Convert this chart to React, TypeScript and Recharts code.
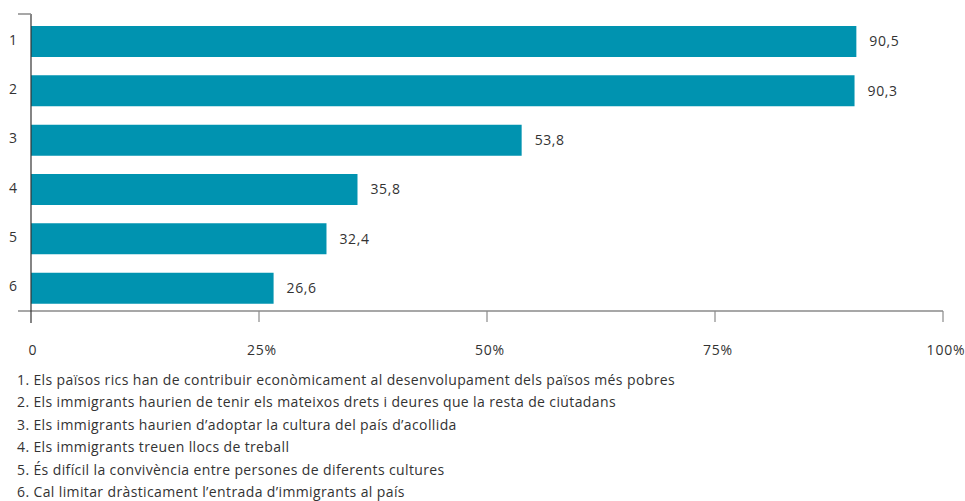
import React from "react";
import { BarChart, Bar, XAxis, YAxis, LabelList } from "recharts";

const categories = ["1", "2", "3", "4", "5", "6"];
const values = [90.5, 90.3, 53.8, 35.8, 32.4, 26.6];
const xTicks = [0, 25, 50, 75, 100];
const notes = [
    "1. Els països rics han de contribuir econòmicament al desenvolupament dels països més pobres",
    "2. Els immigrants haurien de tenir els mateixos drets i deures que la resta de ciutadans",
    "3. Els immigrants haurien d’adoptar la cultura del país d’acollida",
    "4. Els immigrants treuen llocs de treball",
    "5. És difícil la convivència entre persones de diferents cultures",
    "6. Cal limitar dràsticament l’entrada d’immigrants al país",
];

const data = categories.map((c, i) => ({ cat: c, value: values[i] }));

const W = 965;
const H = 370;
const TOP = 17;
const LEFT = 31;
const RIGHT = 22;
const PLOT_BOTTOM = 313;
const AXIS_Y = 311;
const LINE_TOP = 14;
const X_AXIS_H = 50;

const FONT = "'Open Sans', sans-serif";
const BAR = "#0093b0";
const TEXT = "#333333";
const GREY = "#8a8a8a";

const XTick = (props: any) => {
    const { x, payload, index } = props;
    return (
        <g>
            {index === 0 && (
                <>
                    <line x1={x - 13} x2={W - RIGHT} y1={AXIS_Y} y2={AXIS_Y} stroke={GREY} strokeWidth={1.5} />
                    <line x1={x} x2={x} y1={LINE_TOP} y2={AXIS_Y + 12} stroke={TEXT} strokeWidth={1.2} />
                    <line x1={x - 13} x2={x} y1={LINE_TOP} y2={LINE_TOP} stroke={GREY} strokeWidth={1.5} />
                </>
            )}
            {index !== 0 && (
                <line x1={x} x2={x} y1={AXIS_Y} y2={AXIS_Y + 11} stroke={GREY} strokeWidth={1.2} />
            )}
            <text
                x={index === 0 ? x + 2 : x + 3}
                y={AXIS_Y + 44}
                textAnchor="middle"
                fill={TEXT}
                fontSize={14}
                fontFamily={FONT}
                letterSpacing={0.8}
            >
                {payload.value === 0 ? "0" : `${payload.value}%`}
            </text>
        </g>
    );
};

const YTick = (props: any) => {
    const { y, payload } = props;
    return (
        <text x={13} y={y + 3} textAnchor="middle" fill={TEXT} fontSize={14} fontFamily={FONT}>
            {payload.value}
        </text>
    );
};

export default function App() {
    return (
        <div style={{ position: "absolute", top: 0, left: 0, width: W, height: 501, background: "#fff" }}>
            <BarChart
                width={W}
                height={H}
                data={data}
                layout="vertical"
                margin={{ top: TOP, right: RIGHT, left: 0, bottom: H - PLOT_BOTTOM - X_AXIS_H }}
                barSize={31}
            >
                <XAxis
                    type="number"
                    domain={[0, 100]}
                    ticks={xTicks}
                    height={X_AXIS_H}
                    axisLine={false}
                    tickLine={false}
                    tick={<XTick />}
                    interval={0}
                />
                <YAxis
                    type="category"
                    dataKey="cat"
                    width={LEFT}
                    axisLine={false}
                    tickLine={false}
                    tick={<YTick />}
                    interval={0}
                />
                <Bar dataKey="value" fill={BAR} isAnimationActive={false}>
                    <LabelList
                        dataKey="value"
                        position="right"
                        offset={13}
                        fill={TEXT}
                        fontSize={14}
                        fontFamily={FONT}
                        letterSpacing={0.6}
                        formatter={(v: any) => String(v).replace(".", ",")}
                    />
                </Bar>
            </BarChart>
            <div
                style={{
                    position: "absolute",
                    top: 369,
                    left: 17,
                    fontFamily: FONT,
                    fontSize: 14,
                    letterSpacing: "0.38px",
                    lineHeight: "22.4px",
                    color: TEXT,
                    whiteSpace: "nowrap",
                }}
            >
                {notes.map((n) => (
                    <div key={n}>{n}</div>
                ))}
            </div>
        </div>
    );
}
